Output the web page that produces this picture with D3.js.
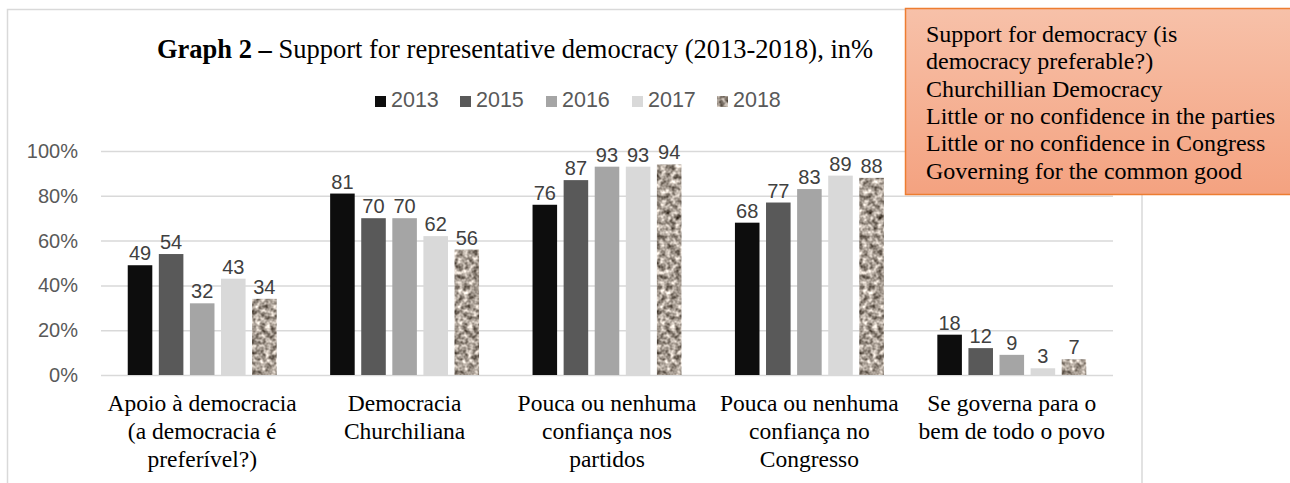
<!DOCTYPE html>
<html>
<head>
<meta charset="utf-8">
<script src="https://cdn.jsdelivr.net/npm/d3@7/dist/d3.min.js"></script>
<style>
  html, body { margin: 0; padding: 0; background: #ffffff; }
  svg { display: block; }
</style>
</head>
<body>
<svg id="chart" width="1290" height="483"></svg>
<script>
// Survey indicators (grouped on the x axis)
const categories = [
  "Apoio à democracia (a democracia é preferível?)",
  "Democracia Churchiliana",
  "Pouca ou nenhuma confiança nos partidos",
  "Pouca ou nenhuma confiança no Congresso",
  "Se governa para o bem de todo o povo"
];
const categoryLines = [
  ["Apoio à democracia", "(a democracia é", "preferível?)"],
  ["Democracia", "Churchiliana"],
  ["Pouca ou nenhuma", "confiança nos", "partidos"],
  ["Pouca ou nenhuma", "confiança no", "Congresso"],
  ["Se governa para o", "bem de todo o povo"]
];
const years = ["2013", "2015", "2016", "2017", "2018"];

// Percentages per survey year
const v2013 = [49, 81, 76, 68, 18];
const v2015 = [54, 70, 87, 77, 12];
const v2016 = [32, 70, 93, 83, 9];
const v2017 = [43, 62, 93, 89, 3];
const v2018 = [34, 56, 94, 88, 7];

const yTicks = [0, 20, 40, 60, 80, 100];

const noteLines = [
  "Support for democracy (is",
  "democracy preferable?)",
  "Churchillian Democracy",
  "Little or no confidence in the parties",
  "Little or no confidence in Congress",
  "Governing for the common good"
];

const seriesByYear = { "2013": v2013, "2015": v2015, "2016": v2016, "2017": v2017, "2018": v2018 };
const fills = { "2013": "#0d0d0d", "2015": "#595959", "2016": "#a5a5a5", "2017": "#d9d9d9" };

const svg = d3.select("#chart");
const defs = svg.append("defs");

// Granite-like texture for the 2018 series
const granite = defs.append("filter")
  .attr("id", "granite")
  .attr("color-interpolation-filters", "sRGB")
  .attr("x", 0).attr("y", 0).attr("width", 1).attr("height", 1);
granite.append("feTurbulence")
  .attr("type", "fractalNoise")
  .attr("baseFrequency", 0.2)
  .attr("numOctaves", 2)
  .attr("seed", 7)
  .attr("result", "noise");
granite.append("feColorMatrix")
  .attr("in", "noise")
  .attr("type", "matrix")
  .attr("values", "1.25 0 0 0 0.04  1.25 0 0 0 0.0  1.25 0 0 0 -0.04  0 0 0 0 1")
  .attr("result", "tinted");
granite.append("feComposite")
  .attr("in", "tinted")
  .attr("in2", "SourceGraphic")
  .attr("operator", "in");

// Note box gradient
const grad = defs.append("linearGradient")
  .attr("id", "noteFill")
  .attr("x1", 0).attr("y1", 0).attr("x2", 0).attr("y2", 1);
grad.append("stop").attr("offset", "0%").attr("stop-color", "#f7c1a9");
grad.append("stop").attr("offset", "100%").attr("stop-color", "#f4a280");

// Chart frame
svg.append("rect")
  .attr("x", 7.5).attr("y", 9.5)
  .attr("width", 1134.5).attr("height", 500)
  .attr("fill", "none")
  .attr("stroke", "#d9d9d9")
  .attr("stroke-width", 1.5);

// Scales
const plotLeft = 101, plotRight = 1113, plotTop = 151, plotBottom = 375;
const x0 = d3.scaleBand().domain(categories).range([plotLeft, plotRight]).padding(0);
const x1 = d3.scaleBand().domain(years).range([0, x0.bandwidth()])
  .paddingInner(0.21).paddingOuter(0.86);
const y = d3.scaleLinear().domain([0, 100]).range([plotBottom, plotTop]);

// Y axis with gridlines
const yAxis = d3.axisLeft(y)
  .tickValues(yTicks)
  .tickFormat(d => d + "%")
  .tickSizeInner(-(plotRight - plotLeft))
  .tickSizeOuter(0)
  .tickPadding(23);
const gy = svg.append("g")
  .attr("transform", `translate(${plotLeft},0)`)
  .call(yAxis);
gy.select(".domain").remove();
gy.selectAll(".tick line").attr("stroke", "#d9d9d9").attr("stroke-width", 1.5);
gy.selectAll(".tick text")
  .attr("fill", "#595959")
  .style("font-family", "'Liberation Sans', Arial, sans-serif")
  .style("font-size", "20px");

// Bars
const groups = svg.append("g").selectAll("g")
  .data(categories)
  .join("g")
  .attr("transform", d => `translate(${x0(d)},0)`);

groups.each(function(cat, ci) {
  const g = d3.select(this);
  years.forEach(yr => {
    const val = seriesByYear[yr][ci];
    const r = g.append("rect")
      .attr("x", x1(yr))
      .attr("y", y(val))
      .attr("width", x1.bandwidth())
      .attr("height", y(0) - y(val));
    if (yr === "2018") {
      r.attr("fill", "#a89e94").attr("filter", "url(#granite)");
    } else {
      r.attr("fill", fills[yr]);
    }
    g.append("text")
      .attr("x", x1(yr) + x1.bandwidth() / 2)
      .attr("y", y(val) - 5)
      .attr("text-anchor", "middle")
      .attr("fill", "#404040")
      .style("font-family", "'Liberation Sans', Arial, sans-serif")
      .style("font-size", "20px")
      .text(val);
  });
});

// Category labels
const xl = svg.append("g");
categories.forEach((cat, ci) => {
  const t = xl.append("text")
    .attr("text-anchor", "middle")
    .attr("fill", "#000000")
    .style("font-family", "'Liberation Serif', 'Times New Roman', serif")
    .style("font-size", "23.5px");
  categoryLines[ci].forEach((line, li) => {
    t.append("tspan")
      .attr("x", x0(cat) + x0.bandwidth() / 2)
      .attr("y", 411 + li * 28)
      .text(line);
  });
});

// Title
const title = svg.append("text")
  .attr("x", 157).attr("y", 58)
  .attr("fill", "#000000")
  .style("font-family", "'Liberation Serif', 'Times New Roman', serif")
  .style("font-size", "26.5px");
title.append("tspan").attr("font-weight", "bold").text("Graph 2 –");
title.append("tspan").text(" Support for representative democracy (2013-2018), in%");

// Legend
const legend = svg.append("g");
const legendX = [375, 460, 546, 632, 717];
years.forEach((yr, i) => {
  const sw = legend.append("rect")
    .attr("x", legendX[i]).attr("y", 96)
    .attr("width", 11).attr("height", 11);
  if (yr === "2018") sw.attr("fill", "#a89e94").attr("filter", "url(#granite)");
  else sw.attr("fill", fills[yr]);
  legend.append("text")
    .attr("x", legendX[i] + 16).attr("y", 107)
    .attr("fill", "#595959")
    .style("font-family", "'Liberation Sans', Arial, sans-serif")
    .style("font-size", "21.5px")
    .text(yr);
});

// Note box with English translations
svg.append("rect")
  .attr("x", 905.5).attr("y", 8.5)
  .attr("width", 390).attr("height", 186)
  .attr("fill", "url(#noteFill)")
  .attr("stroke", "#ed7d31")
  .attr("stroke-width", 1.5);
const note = svg.append("text")
  .attr("fill", "#000000")
  .style("font-family", "'Liberation Serif', 'Times New Roman', serif")
  .style("font-size", "24px");
noteLines.forEach((line, i) => {
  note.append("tspan")
    .attr("x", 926)
    .attr("y", 42 + i * 27.3)
    .text(line);
});
</script>
</body>
</html>
